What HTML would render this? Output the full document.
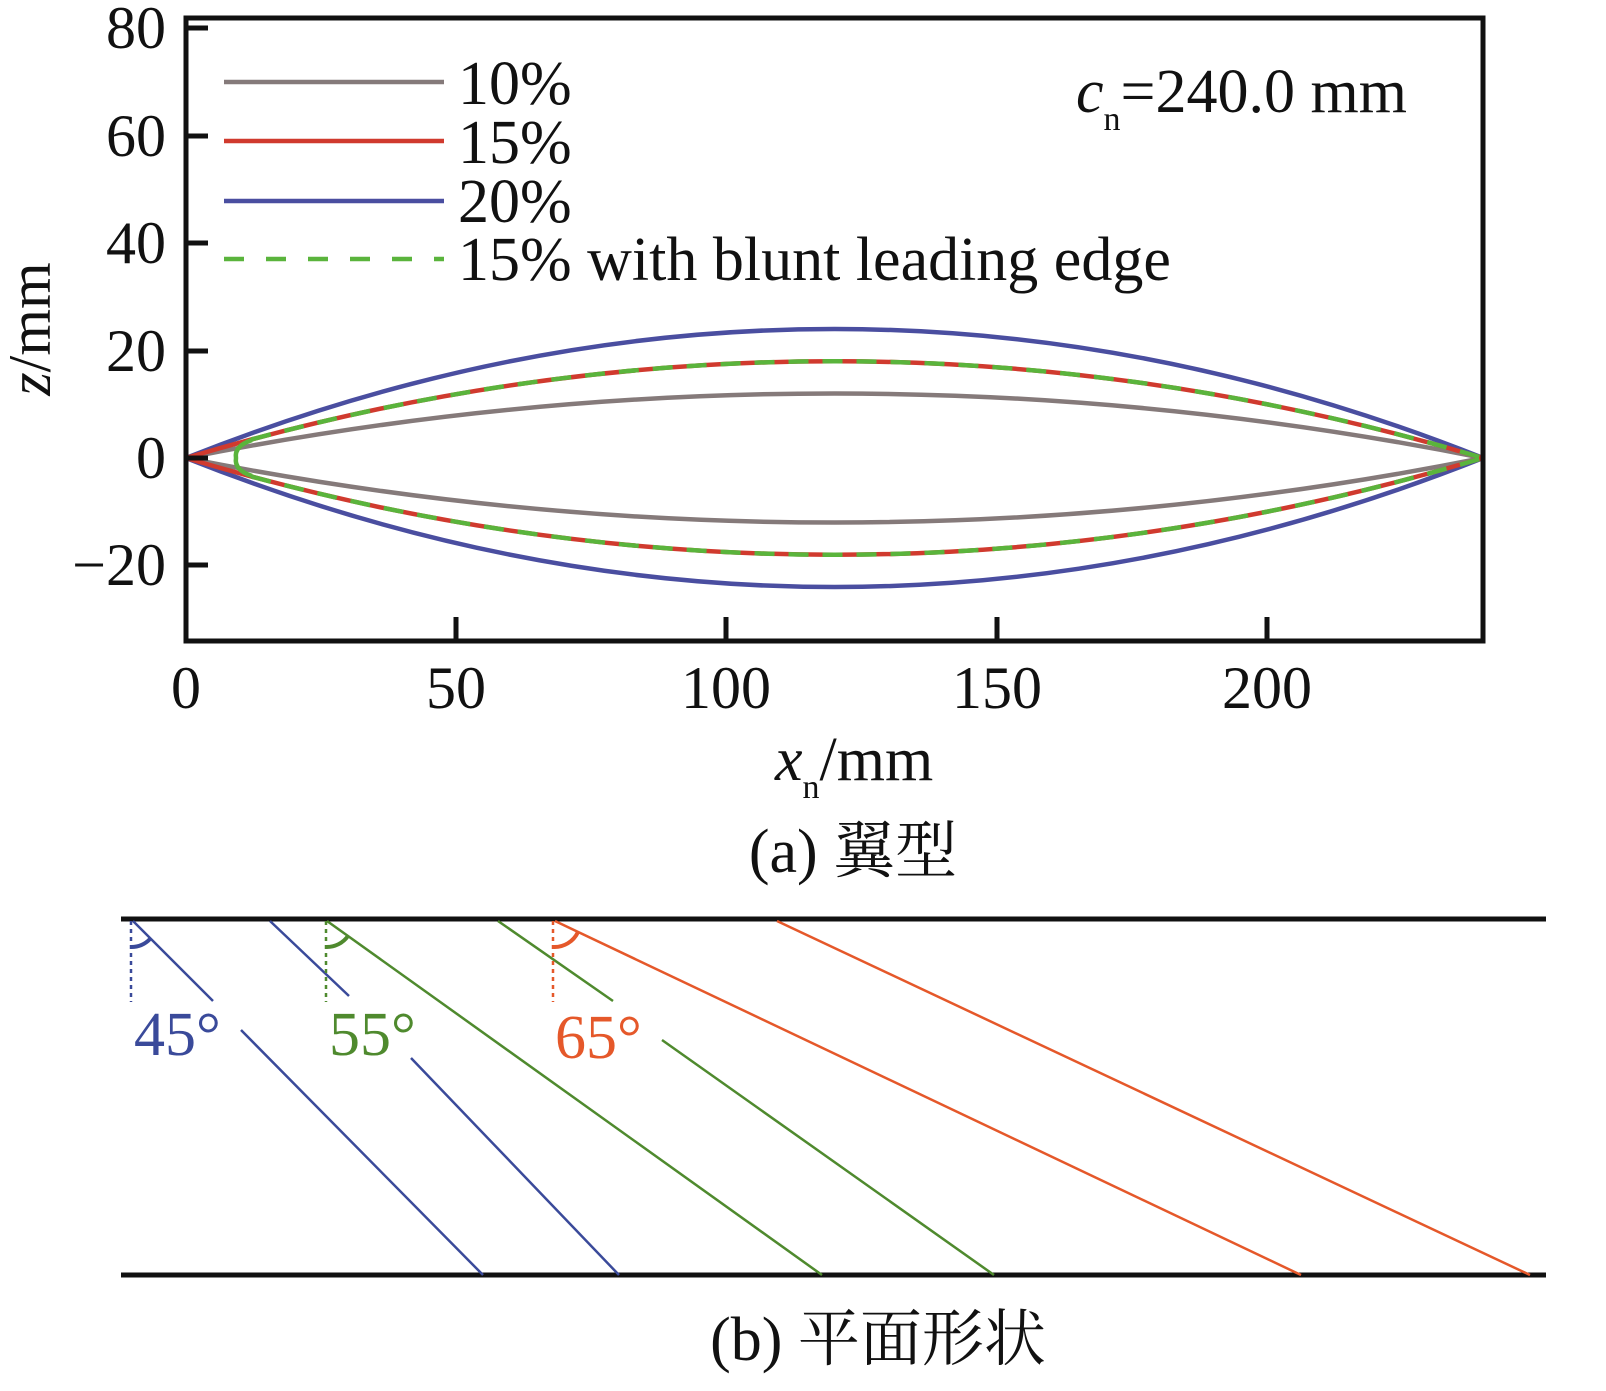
<!DOCTYPE html>
<html><head><meta charset="utf-8"><style>
html,body{margin:0;padding:0;background:#fff;}
svg{display:block;}
text{font-family:"Liberation Serif","Noto Serif CJK SC",serif;}
</style></head><body>
<svg width="1606" height="1391" viewBox="0 0 1606 1391" xmlns="http://www.w3.org/2000/svg">
<defs><clipPath id="cp"><rect x="246" y="0" width="1300" height="800"/></clipPath></defs>
<g fill="none" stroke-width="4.5">
<path d="M186,458 Q834.5,329 1483,458" stroke="#857a7a"/>
<path d="M186,458 Q834.5,587 1483,458" stroke="#857a7a"/>
<path d="M186,458 Q834.5,200 1483,458" stroke="#4a4ea0"/>
<path d="M186,458 Q834.5,716 1483,458" stroke="#4a4ea0"/>
<path d="M186,458 Q834.5,264.5 1483,458" stroke="#d03a2e"/>
<path d="M186,458 Q834.5,651.5 1483,458" stroke="#d03a2e"/>
<g clip-path="url(#cp)" stroke="#5ab43c" stroke-dasharray="20 14">
<path d="M186,458 Q834.5,264.5 1483,458"/>
<path d="M186,458 Q834.5,651.5 1483,458"/>
</g>
<path d="M252,440 Q234,446 236,458 Q234,470 252,476" stroke="#5ab43c"/>
</g>
<rect x="186" y="18" width="1297" height="623" fill="none" stroke="#111" stroke-width="5"/>
<g stroke="#111" stroke-width="5">
<line x1="186" y1="28" x2="208" y2="28"/>
<line x1="186" y1="136" x2="208" y2="136"/>
<line x1="186" y1="243" x2="208" y2="243"/>
<line x1="186" y1="351" x2="208" y2="351"/>
<line x1="186" y1="458" x2="208" y2="458"/>
<line x1="186" y1="565" x2="208" y2="565"/>
<line x1="456" y1="641" x2="456" y2="617"/>
<line x1="726" y1="641" x2="726" y2="617"/>
<line x1="997" y1="641" x2="997" y2="617"/>
<line x1="1267" y1="641" x2="1267" y2="617"/>
</g>
<g font-size="60" fill="#111" text-anchor="end">
<text x="166" y="48">80</text>
<text x="166" y="156">60</text>
<text x="166" y="263">40</text>
<text x="166" y="371">20</text>
<text x="166" y="478">0</text>
<text x="166" y="585">−20</text>
</g>
<g font-size="60" fill="#111" text-anchor="middle">
<text x="186" y="708">0</text>
<text x="456" y="708">50</text>
<text x="726" y="708">100</text>
<text x="997" y="708">150</text>
<text x="1267" y="708">200</text>
</g>
<text x="50" y="329" font-size="60" fill="#111" text-anchor="middle" transform="rotate(-90 50 329)"><tspan font-style="italic">z</tspan>/mm</text>
<text x="775" y="780" font-size="62" fill="#111"><tspan font-style="italic">x</tspan><tspan font-size="34" dy="18">n</tspan><tspan dy="-18">/mm</tspan></text>
<text x="853" y="872" font-size="62" fill="#111" text-anchor="middle">(a) 翼型</text>
<g stroke-width="4.5">
<line x1="224" y1="82" x2="444" y2="82" stroke="#857a7a"/>
<line x1="224" y1="141" x2="444" y2="141" stroke="#d03a2e"/>
<line x1="224" y1="201" x2="444" y2="201" stroke="#4a4ea0"/>
<line x1="224" y1="259" x2="444" y2="259" stroke="#5ab43c" stroke-dasharray="20 22"/>
</g>
<g font-size="62" fill="#111">
<text x="458" y="104">10%</text>
<text x="458" y="163">15%</text>
<text x="458" y="222">20%</text>
<text x="458" y="280">15% with blunt leading edge</text>
<text x="1076" y="112"><tspan font-style="italic">c</tspan><tspan font-size="34" dy="18">n</tspan><tspan dy="-18">=240.0 mm</tspan></text>
</g>
<g stroke="#111" stroke-width="5">
<line x1="121" y1="919" x2="1546" y2="919"/>
<line x1="121" y1="1275" x2="1546" y2="1275"/>
</g>
<g stroke-width="2.5" fill="none">
<path d="M133,921 L213,1001 M241,1030 L483,1275" stroke="#3a4a9a"/>
<path d="M270,921 L349,996 M411,1058 L619,1275" stroke="#3a4a9a"/>
<path d="M327,921 L822,1275" stroke="#4f8a2e"/>
<path d="M498,921 L613,1001 M662,1040 L994,1275" stroke="#4f8a2e"/>
<path d="M555,921 L1301,1275" stroke="#e5582a"/>
<path d="M777,921 L1530,1275" stroke="#e5582a"/>
</g>
<g stroke-width="2.5" fill="none" stroke-dasharray="4 4">
<line x1="131" y1="921" x2="131" y2="1002" stroke="#3a4a9a"/>
<line x1="326" y1="921" x2="326" y2="1002" stroke="#4f8a2e"/>
<line x1="553" y1="921" x2="553" y2="1002" stroke="#e5582a"/>
</g>
<g stroke-width="4" fill="none">
<path d="M131,947 A26,26 0 0 0 150,939" stroke="#3a4a9a"/>
<path d="M326,947 A26,26 0 0 0 348,936" stroke="#4f8a2e"/>
<path d="M553,947 A26,26 0 0 0 578,932" stroke="#e5582a"/>
</g>
<g font-size="62">
<text x="134" y="1055" fill="#3a4a9a">45°</text>
<text x="329" y="1055" fill="#4f8a2e">55°</text>
<text x="555" y="1058" fill="#e5582a">65°</text>
</g>
<text x="878" y="1360" font-size="62" fill="#111" text-anchor="middle">(b) 平面形状</text>
</svg>
</body></html>
